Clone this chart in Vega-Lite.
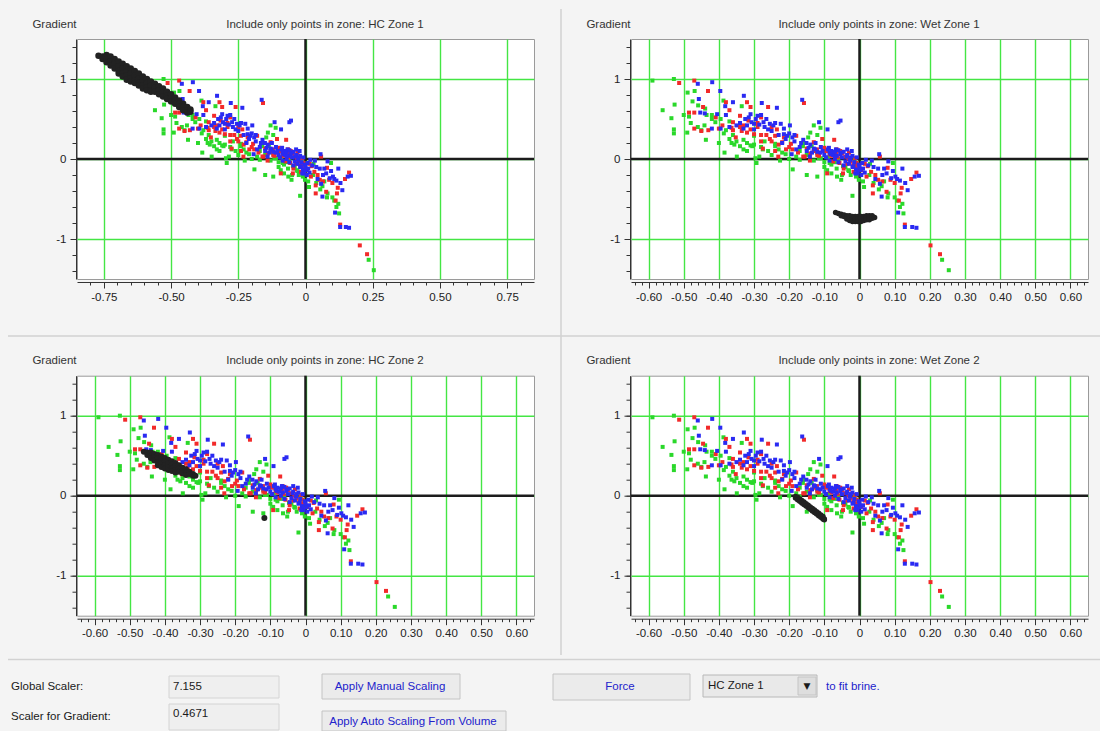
{
"$schema":"https://vega.github.io/schema/vega-lite/v6.json",
"background":"#f4f4f4",
"padding":{"left":7,"top":8,"right":0,"bottom":0},
"bounds":"flush",
"columns":2,
"spacing":{"row":96.7,"column":97},
"config":{
 "font":"Liberation Sans",
 "view":{"fill":"white","stroke":"#9a9a9a","strokeWidth":1},
 "axis":{"labelFont":"Liberation Sans","labelFontSize":11.5,"labelColor":"#222222","titleFont":"Liberation Sans","titleFontSize":11.5,"titleFontWeight":"normal","titleColor":"#333333","domainColor":"#333333","tickColor":"#333333","gridColor":"#44e644","gridOpacity":1,"gridWidth":1.4}
},
"datasets":{
 "pts":[
{"x":-0.589,"y":0.98,"c":"g"},{"x":-0.528,"y":1.0,"c":"g"},{"x":-0.56,"y":0.61,"c":"g"},{"x":-0.526,"y":0.68,"c":"g"},{"x":-0.535,"y":0.51,"c":"g"},{"x":-0.528,"y":0.37,"c":"g"},{"x":-0.528,"y":0.32,"c":"g"},{"x":-0.49,"y":0.33,"c":"g"},{"x":-0.489,"y":0.83,"c":"g"},{"x":-0.469,"y":0.85,"c":"g"},{"x":-0.475,"y":0.72,"c":"g"},{"x":-0.459,"y":0.67,"c":"g"},{"x":-0.485,"y":0.53,"c":"g"},{"x":-0.439,"y":0.63,"c":"g"},{"x":-0.435,"y":0.55,"c":"g"},{"x":-0.441,"y":0.42,"c":"g"},{"x":-0.437,"y":0.24,"c":"g"},{"x":-0.42,"y":0.5,"c":"g"},{"x":-0.41,"y":0.46,"c":"g"},{"x":-0.395,"y":0.5,"c":"g"},{"x":-0.387,"y":0.73,"c":"g"},{"x":-0.386,"y":0.32,"c":"g"},{"x":-0.384,"y":0.08,"c":"g"},{"x":-0.37,"y":0.47,"c":"g"},{"x":-0.37,"y":0.25,"c":"g"},{"x":-0.364,"y":0.2,"c":"g"},{"x":-0.356,"y":0.18,"c":"g"},{"x":-0.349,"y":0.03,"c":"g"},{"x":-0.34,"y":0.16,"c":"g"},{"x":-0.335,"y":0.66,"c":"g"},{"x":-0.33,"y":0.12,"c":"g"},{"x":-0.32,"y":0.2,"c":"g"},{"x":-0.305,"y":0.16,"c":"g"},{"x":-0.3,"y":0.29,"c":"g"},{"x":-0.3,"y":0.18,"c":"g"},{"x":-0.296,"y":0.01,"c":"g"},{"x":-0.293,"y":-0.05,"c":"g"},{"x":-0.285,"y":0.03,"c":"g"},{"x":-0.275,"y":0.12,"c":"g"},{"x":-0.26,"y":0.1,"c":"g"},{"x":-0.24,"y":0.16,"c":"g"},{"x":-0.226,"y":-0.02,"c":"g"},{"x":-0.22,"y":0.08,"c":"g"},{"x":-0.19,"y":-0.13,"c":"g"},{"x":-0.18,"y":0.03,"c":"g"},{"x":-0.161,"y":0.16,"c":"g"},{"x":-0.146,"y":0.27,"c":"g"},{"x":-0.14,"y":0.33,"c":"g"},{"x":-0.13,"y":0.42,"c":"g"},{"x":-0.111,"y":0.39,"c":"g"},{"x":-0.136,"y":0.16,"c":"g"},{"x":-0.116,"y":0.01,"c":"g"},{"x":-0.1,"y":-0.04,"c":"g"},{"x":-0.092,"y":-0.14,"c":"g"},{"x":-0.08,"y":-0.07,"c":"g"},{"x":-0.064,"y":-0.22,"c":"g"},{"x":-0.052,"y":-0.26,"c":"g"},{"x":-0.047,"y":-0.09,"c":"g"},{"x":-0.032,"y":-0.14,"c":"g"},{"x":-0.02,"y":-0.46,"c":"g"},{"x":-0.014,"y":-0.01,"c":"g"},{"x":-0.007,"y":-0.05,"c":"g"},{"x":-0.002,"y":-0.26,"c":"g"},{"x":0.013,"y":-0.35,"c":"g"},{"x":0.028,"y":-0.2,"c":"g"},{"x":0.063,"y":-0.34,"c":"g"},{"x":0.08,"y":-0.48,"c":"g"},{"x":0.082,"y":-0.43,"c":"g"},{"x":0.095,"y":-0.05,"c":"g"},{"x":0.107,"y":-0.52,"c":"g"},{"x":0.122,"y":-0.56,"c":"g"},{"x":0.125,"y":-0.68,"c":"g"},{"x":0.235,"y":-1.26,"c":"g"},{"x":0.254,"y":-1.39,"c":"g"},
{"x":-0.09,"y":0.02,"c":"g"},{"x":-0.07,"y":-0.04,"c":"g"},{"x":-0.06,"y":0.0,"c":"g"},{"x":-0.04,"y":-0.1,"c":"g"},{"x":-0.03,"y":-0.15,"c":"g"},{"x":-0.11,"y":0.01,"c":"g"},{"x":-0.13,"y":-0.02,"c":"g"},{"x":-0.17,"y":-0.01,"c":"g"},{"x":-0.21,"y":0.06,"c":"g"},{"x":-0.24,"y":0.19,"c":"g"},{"x":-0.27,"y":0.22,"c":"g"},{"x":-0.31,"y":0.17,"c":"g"},{"x":-0.33,"y":0.24,"c":"g"},{"x":-0.36,"y":0.3,"c":"g"},{"x":-0.4,"y":0.2,"c":"g"},{"x":-0.15,"y":-0.2,"c":"g"},{"x":-0.12,"y":-0.22,"c":"g"},{"x":-0.08,"y":-0.18,"c":"g"},{"x":0.03,"y":-0.06,"c":"g"},{"x":-0.45,"y":0.36,"c":"g"},
{"x":-0.5,"y":0.55,"c":"g"},{"x":-0.46,"y":0.4,"c":"g"},{"x":-0.38,"y":0.36,"c":"g"},{"x":-0.35,"y":0.22,"c":"g"},{"x":-0.32,"y":0.1,"c":"g"},{"x":-0.28,"y":0.15,"c":"g"},{"x":-0.25,"y":0.05,"c":"g"},{"x":-0.23,"y":0.12,"c":"g"},{"x":-0.2,"y":0.0,"c":"g"},{"x":-0.17,"y":0.1,"c":"g"},{"x":-0.15,"y":0.05,"c":"g"},{"x":-0.12,"y":0.07,"c":"g"},{"x":-0.1,"y":-0.1,"c":"g"},{"x":-0.085,"y":-0.05,"c":"g"},{"x":-0.065,"y":-0.12,"c":"g"},{"x":-0.05,"y":-0.2,"c":"g"},{"x":-0.025,"y":-0.2,"c":"g"},{"x":-0.01,"y":-0.22,"c":"g"},{"x":0.01,"y":-0.28,"c":"g"},{"x":0.04,"y":-0.3,"c":"g"},{"x":0.055,"y":-0.38,"c":"g"},{"x":0.07,"y":-0.28,"c":"g"},{"x":0.1,"y":-0.48,"c":"g"},{"x":0.115,"y":-0.6,"c":"g"},{"x":-0.16,"y":0.2,"c":"g"},{"x":-0.12,"y":0.3,"c":"g"},{"x":-0.42,"y":0.55,"c":"g"},{"x":-0.48,"y":0.45,"c":"g"},
{"x":-0.513,"y":0.95,"c":"r"},{"x":-0.47,"y":0.98,"c":"r"},{"x":-0.431,"y":0.85,"c":"r"},{"x":-0.485,"y":0.58,"c":"r"},{"x":-0.47,"y":0.58,"c":"r"},{"x":-0.445,"y":0.65,"c":"r"},{"x":-0.45,"y":0.35,"c":"r"},{"x":-0.409,"y":0.52,"c":"r"},{"x":-0.38,"y":0.71,"c":"r"},{"x":-0.37,"y":0.61,"c":"r"},{"x":-0.364,"y":0.39,"c":"r"},{"x":-0.36,"y":0.46,"c":"r"},{"x":-0.352,"y":0.27,"c":"r"},{"x":-0.34,"y":0.54,"c":"r"},{"x":-0.335,"y":0.35,"c":"r"},{"x":-0.32,"y":0.71,"c":"r"},{"x":-0.31,"y":0.65,"c":"r"},{"x":-0.316,"y":0.48,"c":"r"},{"x":-0.31,"y":0.37,"c":"r"},{"x":-0.3,"y":0.31,"c":"r"},{"x":-0.28,"y":0.52,"c":"r"},{"x":-0.275,"y":0.13,"c":"r"},{"x":-0.26,"y":0.65,"c":"r"},{"x":-0.255,"y":0.25,"c":"r"},{"x":-0.24,"y":0.29,"c":"r"},{"x":-0.235,"y":0.37,"c":"r"},{"x":-0.231,"y":0.03,"c":"r"},{"x":-0.22,"y":0.21,"c":"r"},{"x":-0.209,"y":0.12,"c":"r"},{"x":-0.191,"y":0.12,"c":"r"},{"x":-0.18,"y":0.29,"c":"r"},{"x":-0.158,"y":0.7,"c":"r"},{"x":-0.156,"y":0.03,"c":"r"},{"x":-0.141,"y":-0.02,"c":"r"},{"x":-0.121,"y":0.12,"c":"r"},{"x":-0.106,"y":0.25,"c":"r"},{"x":-0.1,"y":0.11,"c":"r"},{"x":-0.092,"y":-0.18,"c":"r"},{"x":-0.072,"y":0.24,"c":"r"},{"x":-0.067,"y":0.08,"c":"r"},{"x":-0.057,"y":-0.05,"c":"r"},{"x":-0.047,"y":-0.18,"c":"r"},{"x":-0.032,"y":0.0,"c":"r"},{"x":-0.017,"y":-0.16,"c":"r"},{"x":-0.012,"y":0.01,"c":"r"},{"x":0.023,"y":-0.09,"c":"r"},{"x":0.033,"y":-0.16,"c":"r"},{"x":0.038,"y":-0.33,"c":"r"},{"x":0.038,"y":-0.43,"c":"r"},{"x":0.053,"y":-0.26,"c":"r"},{"x":0.058,"y":0.03,"c":"r"},{"x":0.077,"y":-0.41,"c":"r"},{"x":0.088,"y":-0.26,"c":"r"},{"x":0.112,"y":-0.52,"c":"r"},{"x":0.117,"y":-0.43,"c":"r"},{"x":0.129,"y":-0.82,"c":"r"},{"x":0.147,"y":-0.25,"c":"r"},{"x":0.162,"y":-0.17,"c":"r"},{"x":0.202,"y":-1.08,"c":"r"},{"x":0.229,"y":-1.19,"c":"r"},{"x":0.08,"y":-0.11,"c":"r"},
{"x":-0.095,"y":0.1,"c":"r"},{"x":-0.08,"y":0.04,"c":"r"},{"x":-0.065,"y":0.12,"c":"r"},{"x":-0.05,"y":0.07,"c":"r"},{"x":-0.04,"y":0.03,"c":"r"},{"x":-0.03,"y":0.08,"c":"r"},{"x":-0.025,"y":-0.03,"c":"r"},{"x":-0.018,"y":-0.08,"c":"r"},{"x":-0.008,"y":-0.05,"c":"r"},{"x":-0.1,"y":0.14,"c":"r"},{"x":-0.12,"y":0.05,"c":"r"},{"x":-0.14,"y":0.07,"c":"r"},{"x":-0.16,"y":0.03,"c":"r"},{"x":-0.2,"y":0.15,"c":"r"},{"x":-0.25,"y":0.22,"c":"r"},{"x":-0.28,"y":0.3,"c":"r"},{"x":-0.43,"y":0.36,"c":"r"},{"x":-0.39,"y":0.42,"c":"r"},{"x":-0.33,"y":0.42,"c":"r"},{"x":-0.29,"y":0.4,"c":"r"},{"x":-0.24,"y":0.1,"c":"r"},{"x":-0.055,"y":0.1,"c":"r"},
{"x":-0.34,"y":0.4,"c":"r"},{"x":-0.32,"y":0.33,"c":"r"},{"x":-0.29,"y":0.45,"c":"r"},{"x":-0.265,"y":0.3,"c":"r"},{"x":-0.25,"y":0.4,"c":"r"},{"x":-0.23,"y":0.18,"c":"r"},{"x":-0.215,"y":0.27,"c":"r"},{"x":-0.195,"y":0.19,"c":"r"},{"x":-0.175,"y":0.08,"c":"r"},{"x":-0.15,"y":0.13,"c":"r"},{"x":-0.13,"y":0.1,"c":"r"},{"x":-0.115,"y":0.04,"c":"r"},{"x":-0.085,"y":0.06,"c":"r"},{"x":-0.075,"y":-0.03,"c":"r"},{"x":-0.062,"y":0.02,"c":"r"},{"x":-0.045,"y":-0.12,"c":"r"},{"x":-0.035,"y":-0.06,"c":"r"},{"x":-0.01,"y":-0.1,"c":"r"},{"x":0.005,"y":-0.14,"c":"r"},{"x":0.015,"y":-0.06,"c":"r"},{"x":0.045,"y":-0.2,"c":"r"},{"x":0.065,"y":-0.28,"c":"r"},{"x":0.1,"y":-0.3,"c":"r"},{"x":-0.4,"y":0.38,"c":"r"},{"x":-0.47,"y":0.38,"c":"r"},{"x":-0.36,"y":0.36,"c":"r"},{"x":-0.28,"y":0.22,"c":"r"},{"x":-0.13,"y":0.21,"c":"r"},{"x":0.02,"y":-0.22,"c":"r"},{"x":0.12,"y":-0.36,"c":"r"},
{"x":-0.46,"y":0.94,"c":"b"},{"x":-0.419,"y":0.96,"c":"b"},{"x":-0.396,"y":0.85,"c":"b"},{"x":-0.457,"y":0.75,"c":"b"},{"x":-0.453,"y":0.58,"c":"b"},{"x":-0.405,"y":0.56,"c":"b"},{"x":-0.395,"y":0.38,"c":"b"},{"x":-0.382,"y":0.66,"c":"b"},{"x":-0.36,"y":0.71,"c":"b"},{"x":-0.329,"y":0.79,"c":"b"},{"x":-0.325,"y":0.5,"c":"b"},{"x":-0.32,"y":0.42,"c":"b"},{"x":-0.31,"y":0.56,"c":"b"},{"x":-0.307,"y":0.46,"c":"b"},{"x":-0.3,"y":0.37,"c":"b"},{"x":-0.29,"y":0.54,"c":"b"},{"x":-0.28,"y":0.55,"c":"b"},{"x":-0.278,"y":0.7,"c":"b"},{"x":-0.273,"y":0.46,"c":"b"},{"x":-0.26,"y":0.37,"c":"b"},{"x":-0.255,"y":0.44,"c":"b"},{"x":-0.245,"y":0.42,"c":"b"},{"x":-0.235,"y":0.64,"c":"b"},{"x":-0.224,"y":0.44,"c":"b"},{"x":-0.22,"y":0.2,"c":"b"},{"x":-0.215,"y":0.31,"c":"b"},{"x":-0.206,"y":0.29,"c":"b"},{"x":-0.198,"y":0.42,"c":"b"},{"x":-0.191,"y":0.27,"c":"b"},{"x":-0.193,"y":0.06,"c":"b"},{"x":-0.18,"y":0.12,"c":"b"},{"x":-0.166,"y":0.2,"c":"b"},{"x":-0.163,"y":0.74,"c":"b"},{"x":-0.151,"y":0.2,"c":"b"},{"x":-0.141,"y":0.03,"c":"b"},{"x":-0.126,"y":0.12,"c":"b"},{"x":-0.115,"y":0.46,"c":"b"},{"x":-0.111,"y":0.08,"c":"b"},{"x":-0.091,"y":0.37,"c":"b"},{"x":-0.087,"y":0.14,"c":"b"},{"x":-0.082,"y":0.06,"c":"b"},{"x":-0.067,"y":0.12,"c":"b"},{"x":-0.06,"y":0.46,"c":"b"},{"x":-0.054,"y":0.48,"c":"b"},{"x":-0.052,"y":0.08,"c":"b"},{"x":-0.037,"y":0.03,"c":"b"},{"x":-0.027,"y":-0.01,"c":"b"},{"x":-0.022,"y":0.1,"c":"b"},{"x":-0.017,"y":-0.09,"c":"b"},{"x":-0.007,"y":-0.18,"c":"b"},{"x":-0.002,"y":-0.07,"c":"b"},{"x":0.003,"y":-0.14,"c":"b"},{"x":0.018,"y":-0.01,"c":"b"},{"x":0.035,"y":-0.02,"c":"b"},{"x":0.053,"y":-0.12,"c":"b"},{"x":0.056,"y":0.06,"c":"b"},{"x":0.058,"y":-0.31,"c":"b"},{"x":0.063,"y":-0.47,"c":"b"},{"x":0.077,"y":-0.18,"c":"b"},{"x":0.082,"y":-0.03,"c":"b"},{"x":0.102,"y":-0.22,"c":"b"},{"x":0.107,"y":-0.25,"c":"b"},{"x":0.11,"y":-0.67,"c":"b"},{"x":0.122,"y":-0.12,"c":"b"},{"x":0.129,"y":-0.85,"c":"b"},{"x":0.137,"y":-0.39,"c":"b"},{"x":0.15,"y":-0.85,"c":"b"},{"x":0.162,"y":-0.86,"c":"b"},{"x":0.169,"y":-0.21,"c":"b"},{"x":0.157,"y":-0.22,"c":"b"},
{"x":-0.09,"y":0.12,"c":"b"},{"x":-0.085,"y":0.08,"c":"b"},{"x":-0.08,"y":0.1,"c":"b"},{"x":-0.075,"y":0.05,"c":"b"},{"x":-0.07,"y":0.09,"c":"b"},{"x":-0.065,"y":0.04,"c":"b"},{"x":-0.06,"y":0.11,"c":"b"},{"x":-0.055,"y":0.06,"c":"b"},{"x":-0.05,"y":0.02,"c":"b"},{"x":-0.045,"y":0.09,"c":"b"},{"x":-0.04,"y":-0.03,"c":"b"},{"x":-0.035,"y":0.05,"c":"b"},{"x":-0.03,"y":-0.06,"c":"b"},{"x":-0.025,"y":0.02,"c":"b"},{"x":-0.02,"y":-0.1,"c":"b"},{"x":-0.015,"y":-0.04,"c":"b"},{"x":-0.01,"y":-0.13,"c":"b"},{"x":-0.005,"y":-0.16,"c":"b"},{"x":0.0,"y":-0.1,"c":"b"},{"x":0.005,"y":-0.2,"c":"b"},{"x":-0.012,"y":-0.18,"c":"b"},{"x":-0.1,"y":0.05,"c":"b"},{"x":-0.11,"y":0.15,"c":"b"},{"x":-0.12,"y":0.09,"c":"b"},{"x":-0.13,"y":0.13,"c":"b"},{"x":-0.14,"y":0.18,"c":"b"},{"x":-0.15,"y":0.1,"c":"b"},
{"x":-0.34,"y":0.45,"c":"b"},{"x":-0.33,"y":0.38,"c":"b"},{"x":-0.315,"y":0.52,"c":"b"},{"x":-0.3,"y":0.44,"c":"b"},{"x":-0.295,"y":0.5,"c":"b"},{"x":-0.285,"y":0.43,"c":"b"},{"x":-0.27,"y":0.4,"c":"b"},{"x":-0.265,"y":0.5,"c":"b"},{"x":-0.25,"y":0.35,"c":"b"},{"x":-0.24,"y":0.45,"c":"b"},{"x":-0.23,"y":0.3,"c":"b"},{"x":-0.21,"y":0.25,"c":"b"},{"x":-0.2,"y":0.32,"c":"b"},{"x":-0.185,"y":0.22,"c":"b"},{"x":-0.17,"y":0.15,"c":"b"},{"x":-0.16,"y":0.24,"c":"b"},{"x":-0.145,"y":0.14,"c":"b"},{"x":-0.135,"y":0.08,"c":"b"},{"x":-0.125,"y":0.2,"c":"b"},{"x":-0.105,"y":0.1,"c":"b"},{"x":-0.095,"y":0.02,"c":"b"},{"x":-0.085,"y":-0.02,"c":"b"},{"x":-0.07,"y":0.0,"c":"b"},{"x":-0.06,"y":-0.04,"c":"b"},{"x":-0.045,"y":-0.08,"c":"b"},{"x":-0.035,"y":0.12,"c":"b"},{"x":-0.02,"y":0.04,"c":"b"},{"x":-0.008,"y":0.02,"c":"b"},{"x":0.008,"y":-0.05,"c":"b"},{"x":0.01,"y":-0.12,"c":"b"},{"x":0.015,"y":-0.17,"c":"b"},{"x":0.025,"y":-0.08,"c":"b"},{"x":0.04,"y":-0.1,"c":"b"},{"x":0.045,"y":-0.25,"c":"b"},{"x":0.065,"y":-0.2,"c":"b"},{"x":0.07,"y":-0.12,"c":"b"},{"x":0.09,"y":-0.24,"c":"b"},{"x":0.095,"y":-0.15,"c":"b"},{"x":0.115,"y":-0.27,"c":"b"},{"x":0.13,"y":-0.3,"c":"b"},{"x":-0.37,"y":0.4,"c":"b"},{"x":-0.35,"y":0.42,"c":"b"},{"x":-0.42,"y":0.38,"c":"b"},{"x":-0.44,"y":0.57,"c":"b"},{"x":-0.38,"y":0.55,"c":"b"},{"x":-0.215,"y":0.38,"c":"b"},{"x":-0.185,"y":0.3,"c":"b"}
 ],
 "blk":[
{"z":"HC1","x":-0.77,"y":1.29},{"z":"HC1","x":-0.755,"y":1.28},{"z":"HC1","x":-0.755,"y":1.25},{"z":"HC1","x":-0.74,"y":1.3},{"z":"HC1","x":-0.74,"y":1.25},{"z":"HC1","x":-0.74,"y":1.21},{"z":"HC1","x":-0.725,"y":1.28},{"z":"HC1","x":-0.725,"y":1.22},{"z":"HC1","x":-0.725,"y":1.17},{"z":"HC1","x":-0.71,"y":1.25},{"z":"HC1","x":-0.71,"y":1.19},{"z":"HC1","x":-0.71,"y":1.13},{"z":"HC1","x":-0.695,"y":1.22},{"z":"HC1","x":-0.695,"y":1.16},{"z":"HC1","x":-0.695,"y":1.1},{"z":"HC1","x":-0.695,"y":1.07},{"z":"HC1","x":-0.68,"y":1.19},{"z":"HC1","x":-0.68,"y":1.13},{"z":"HC1","x":-0.68,"y":1.07},{"z":"HC1","x":-0.68,"y":1.03},{"z":"HC1","x":-0.665,"y":1.16},{"z":"HC1","x":-0.665,"y":1.1},{"z":"HC1","x":-0.665,"y":1.04},{"z":"HC1","x":-0.665,"y":0.99},{"z":"HC1","x":-0.65,"y":1.13},{"z":"HC1","x":-0.65,"y":1.07},{"z":"HC1","x":-0.65,"y":1.01},{"z":"HC1","x":-0.65,"y":0.97},{"z":"HC1","x":-0.635,"y":1.1},{"z":"HC1","x":-0.635,"y":1.04},{"z":"HC1","x":-0.635,"y":0.98},{"z":"HC1","x":-0.635,"y":0.95},{"z":"HC1","x":-0.62,"y":1.07},{"z":"HC1","x":-0.62,"y":1.01},{"z":"HC1","x":-0.62,"y":0.95},{"z":"HC1","x":-0.62,"y":0.92},{"z":"HC1","x":-0.605,"y":1.03},{"z":"HC1","x":-0.605,"y":0.98},{"z":"HC1","x":-0.605,"y":0.92},{"z":"HC1","x":-0.605,"y":0.88},{"z":"HC1","x":-0.59,"y":1.0},{"z":"HC1","x":-0.59,"y":0.95},{"z":"HC1","x":-0.59,"y":0.89},{"z":"HC1","x":-0.59,"y":0.86},{"z":"HC1","x":-0.575,"y":0.97},{"z":"HC1","x":-0.575,"y":0.92},{"z":"HC1","x":-0.575,"y":0.86},{"z":"HC1","x":-0.575,"y":0.84},{"z":"HC1","x":-0.56,"y":0.94},{"z":"HC1","x":-0.56,"y":0.89},{"z":"HC1","x":-0.56,"y":0.84},{"z":"HC1","x":-0.545,"y":0.91},{"z":"HC1","x":-0.545,"y":0.86},{"z":"HC1","x":-0.545,"y":0.81},{"z":"HC1","x":-0.53,"y":0.88},{"z":"HC1","x":-0.53,"y":0.83},{"z":"HC1","x":-0.53,"y":0.78},{"z":"HC1","x":-0.515,"y":0.84},{"z":"HC1","x":-0.515,"y":0.79},{"z":"HC1","x":-0.515,"y":0.75},{"z":"HC1","x":-0.5,"y":0.81},{"z":"HC1","x":-0.5,"y":0.76},{"z":"HC1","x":-0.5,"y":0.72},{"z":"HC1","x":-0.485,"y":0.77},{"z":"HC1","x":-0.485,"y":0.73},{"z":"HC1","x":-0.485,"y":0.69},{"z":"HC1","x":-0.47,"y":0.73},{"z":"HC1","x":-0.47,"y":0.69},{"z":"HC1","x":-0.47,"y":0.65},{"z":"HC1","x":-0.455,"y":0.69},{"z":"HC1","x":-0.455,"y":0.65},{"z":"HC1","x":-0.455,"y":0.61},{"z":"HC1","x":-0.44,"y":0.65},{"z":"HC1","x":-0.44,"y":0.61},{"z":"HC1","x":-0.44,"y":0.58},{"z":"HC1","x":-0.428,"y":0.62},{"z":"HC1","x":-0.428,"y":0.59},
{"z":"WZ1","x":-0.068,"y":-0.67},{"z":"WZ1","x":-0.06,"y":-0.68},{"z":"WZ1","x":-0.052,"y":-0.69},{"z":"WZ1","x":-0.052,"y":-0.71},{"z":"WZ1","x":-0.044,"y":-0.7},{"z":"WZ1","x":-0.044,"y":-0.72},{"z":"WZ1","x":-0.036,"y":-0.71},{"z":"WZ1","x":-0.036,"y":-0.73},{"z":"WZ1","x":-0.036,"y":-0.75},{"z":"WZ1","x":-0.028,"y":-0.71},{"z":"WZ1","x":-0.028,"y":-0.74},{"z":"WZ1","x":-0.028,"y":-0.77},{"z":"WZ1","x":-0.02,"y":-0.72},{"z":"WZ1","x":-0.02,"y":-0.75},{"z":"WZ1","x":-0.02,"y":-0.78},{"z":"WZ1","x":-0.012,"y":-0.72},{"z":"WZ1","x":-0.012,"y":-0.75},{"z":"WZ1","x":-0.012,"y":-0.78},{"z":"WZ1","x":-0.004,"y":-0.72},{"z":"WZ1","x":-0.004,"y":-0.75},{"z":"WZ1","x":-0.004,"y":-0.78},{"z":"WZ1","x":0.004,"y":-0.72},{"z":"WZ1","x":0.004,"y":-0.75},{"z":"WZ1","x":0.004,"y":-0.78},{"z":"WZ1","x":0.012,"y":-0.72},{"z":"WZ1","x":0.012,"y":-0.75},{"z":"WZ1","x":0.012,"y":-0.77},{"z":"WZ1","x":0.02,"y":-0.71},{"z":"WZ1","x":0.02,"y":-0.74},{"z":"WZ1","x":0.02,"y":-0.76},{"z":"WZ1","x":0.028,"y":-0.71},{"z":"WZ1","x":0.028,"y":-0.74},{"z":"WZ1","x":0.028,"y":-0.76},{"z":"WZ1","x":0.036,"y":-0.71},{"z":"WZ1","x":0.036,"y":-0.74},{"z":"WZ1","x":0.043,"y":-0.73},
{"z":"HC2","x":-0.46,"y":0.55},{"z":"HC2","x":-0.45,"y":0.54},{"z":"HC2","x":-0.45,"y":0.51},{"z":"HC2","x":-0.44,"y":0.54},{"z":"HC2","x":-0.44,"y":0.5},{"z":"HC2","x":-0.44,"y":0.47},{"z":"HC2","x":-0.43,"y":0.52},{"z":"HC2","x":-0.43,"y":0.48},{"z":"HC2","x":-0.43,"y":0.44},{"z":"HC2","x":-0.42,"y":0.51},{"z":"HC2","x":-0.42,"y":0.47},{"z":"HC2","x":-0.42,"y":0.42},{"z":"HC2","x":-0.42,"y":0.38},{"z":"HC2","x":-0.41,"y":0.49},{"z":"HC2","x":-0.41,"y":0.45},{"z":"HC2","x":-0.41,"y":0.4},{"z":"HC2","x":-0.41,"y":0.36},{"z":"HC2","x":-0.4,"y":0.47},{"z":"HC2","x":-0.4,"y":0.43},{"z":"HC2","x":-0.4,"y":0.38},{"z":"HC2","x":-0.4,"y":0.34},{"z":"HC2","x":-0.39,"y":0.45},{"z":"HC2","x":-0.39,"y":0.41},{"z":"HC2","x":-0.39,"y":0.36},{"z":"HC2","x":-0.39,"y":0.32},{"z":"HC2","x":-0.38,"y":0.43},{"z":"HC2","x":-0.38,"y":0.39},{"z":"HC2","x":-0.38,"y":0.34},{"z":"HC2","x":-0.38,"y":0.31},{"z":"HC2","x":-0.37,"y":0.41},{"z":"HC2","x":-0.37,"y":0.37},{"z":"HC2","x":-0.37,"y":0.32},{"z":"HC2","x":-0.37,"y":0.29},{"z":"HC2","x":-0.36,"y":0.38},{"z":"HC2","x":-0.36,"y":0.34},{"z":"HC2","x":-0.36,"y":0.3},{"z":"HC2","x":-0.35,"y":0.35},{"z":"HC2","x":-0.35,"y":0.31},{"z":"HC2","x":-0.35,"y":0.28},{"z":"HC2","x":-0.34,"y":0.33},{"z":"HC2","x":-0.34,"y":0.29},{"z":"HC2","x":-0.34,"y":0.26},{"z":"HC2","x":-0.33,"y":0.3},{"z":"HC2","x":-0.33,"y":0.27},{"z":"HC2","x":-0.32,"y":0.27},{"z":"HC2","x":-0.32,"y":0.25},{"z":"HC2","x":-0.313,"y":0.25},{"z":"HC2","x":-0.117,"y":-0.28},
{"z":"WZ2","x":-0.182,"y":-0.01},{"z":"WZ2","x":-0.182,"y":-0.03},{"z":"WZ2","x":-0.176,"y":-0.02},{"z":"WZ2","x":-0.176,"y":-0.05},{"z":"WZ2","x":-0.17,"y":-0.04},{"z":"WZ2","x":-0.17,"y":-0.07},{"z":"WZ2","x":-0.164,"y":-0.06},{"z":"WZ2","x":-0.164,"y":-0.09},{"z":"WZ2","x":-0.158,"y":-0.08},{"z":"WZ2","x":-0.158,"y":-0.11},{"z":"WZ2","x":-0.152,"y":-0.1},{"z":"WZ2","x":-0.152,"y":-0.13},{"z":"WZ2","x":-0.146,"y":-0.12},{"z":"WZ2","x":-0.146,"y":-0.15},{"z":"WZ2","x":-0.14,"y":-0.14},{"z":"WZ2","x":-0.14,"y":-0.17},{"z":"WZ2","x":-0.134,"y":-0.16},{"z":"WZ2","x":-0.134,"y":-0.19},{"z":"WZ2","x":-0.128,"y":-0.18},{"z":"WZ2","x":-0.128,"y":-0.21},{"z":"WZ2","x":-0.122,"y":-0.2},{"z":"WZ2","x":-0.122,"y":-0.23},{"z":"WZ2","x":-0.116,"y":-0.22},{"z":"WZ2","x":-0.116,"y":-0.25},{"z":"WZ2","x":-0.11,"y":-0.24},{"z":"WZ2","x":-0.11,"y":-0.27},{"z":"WZ2","x":-0.104,"y":-0.26},{"z":"WZ2","x":-0.104,"y":-0.29},{"z":"WZ2","x":-0.1,"y":-0.29},{"z":"WZ2","x":-0.1,"y":-0.3}
 ],
 "boxes":[
{"x":169,"x2":279,"y":676,"y2":698,"k":"f"},{"x":169,"x2":279,"y":704,"y2":730,"k":"f"},{"x":322,"x2":460,"y":674,"y2":699,"k":"btn"},{"x":322,"x2":506,"y":711,"y2":731,"k":"btn"},{"x":553,"x2":690,"y":674,"y2":700,"k":"btn"},{"x":703,"x2":817,"y":675,"y2":697,"k":"dd"},{"x":798,"x2":816,"y":677,"y2":695,"k":"arr"}
 ],
 "lines":[
{"x":8,"x2":1100,"y":659.5,"y2":659.5},{"x":8,"x2":1100,"y":336,"y2":336},{"x":561,"x2":561,"y":9,"y2":655}
 ],
 "texts":[
{"x":11,"y":687,"t":"Global Scaler:","c":"k","a":"l"},{"x":173,"y":687,"t":"7.155","c":"k","a":"l"},{"x":11,"y":717,"t":"Scaler for Gradient:","c":"k","a":"l"},{"x":173,"y":714,"t":"0.4671","c":"k","a":"l"},{"x":708,"y":686,"t":"HC Zone 1","c":"k","a":"l"},{"x":826,"y":687,"t":"to fit brine.","c":"b","a":"l"},
{"x":390,"y":687,"t":"Apply Manual Scaling","c":"b","a":"c"},{"x":413,"y":722,"t":"Apply Auto Scaling From Volume","c":"b","a":"c"},{"x":620,"y":687,"t":"Force","c":"b","a":"c"},{"x":807,"y":686,"t":"▼","c":"k","a":"c"}
 ]
},
"concat":[
   {"width":457,"height":240,
    "layer":[
     {"data":{"values":[{}]},"mark":{"type":"rule","color":"#1c1c1c","strokeWidth":2.5},"encoding":{"y":{"datum":0,"type":"quantitative","scale":{"domain":[-1.5,1.5],"nice":false,"zero":false},"axis":null}}},
     {"data":{"values":[{}]},"mark":{"type":"rule","color":"#1c1c1c","strokeWidth":2.5},"encoding":{"x":{"datum":0,"type":"quantitative","scale":{"domain":[-0.85,0.85],"nice":false,"zero":false},"axis":null}}},
     {"data":{"name":"pts"},"mark":{"type":"square","size":16,"opacity":1},"encoding":{
       "x":{"field":"x","type":"quantitative","scale":{"domain":[-0.85,0.85],"nice":false,"zero":false},"axis":{"orient":"bottom","values":[-0.75,-0.5,-0.25,0,0.25,0.5,0.75],"grid":true,"tickSize":6,"offset":3,"labelPadding":3,"labelFlush":false,"labelOverlap":false,"labelExpr":"datum.value == 0 ? '0' : (datum.value < 0 ? '-' : '') + format(abs(datum.value), '.2f')","title":"Include only points in zone: HC Zone 1","titleX":247.5,"titleY":-258,"titleAngle":0,"titleAlign":"center","titleBaseline":"middle"}},
       "y":{"field":"y","type":"quantitative","scale":{"domain":[-1.5,1.5],"nice":false,"zero":false},"axis":{"orient":"left","values":[-1,0,1],"grid":true,"tickSize":6,"offset":1,"labelPadding":4,"labelExpr":"(datum.value < 0 ? '-' : '') + format(abs(datum.value), 'd')","title":"Gradient","titleX":0,"titleY":-14.8,"titleAngle":0,"titleAlign":"right","titleBaseline":"middle"}},
       "color":{"field":"c","type":"nominal","scale":{"domain":["g","r","b"],"range":["#2ad82a","#f22a2a","#2a2af2"]},"legend":null}}},
     {"data":{"name":"blk"},"transform":[{"filter":"datum.z == 'HC1'"}],"mark":{"type":"circle","size":42,"color":"#222222","opacity":1},"encoding":{"x":{"field":"x","type":"quantitative","axis":null},"y":{"field":"y","type":"quantitative","axis":null}}},
     {"data":{"values":[{}]},"mark":{"type":"point","opacity":0},"encoding":{
       "x":{"datum":0,"type":"quantitative","axis":{"orient":"bottom","values":[-0.8,-0.75,-0.7,-0.65,-0.6,-0.55,-0.5,-0.45,-0.4,-0.35,-0.3,-0.25,-0.2,-0.15,-0.1,-0.05,0,0.05,0.1,0.15,0.2,0.25,0.3,0.35,0.4,0.45,0.5,0.55,0.6,0.65,0.7,0.75,0.8],"grid":false,"labels":false,"domain":false,"tickSize":3,"offset":3,"title":null}},
       "y":{"datum":0,"type":"quantitative","axis":{"orient":"left","values":[-1.4,-1.2,-1,-0.8,-0.6,-0.4,-0.2,0,0.2,0.4,0.6,0.8,1,1.2,1.4],"grid":false,"labels":false,"domain":false,"tickSize":4,"offset":1,"title":null}}}}
    ],
    "resolve":{"axis":{"x":"independent","y":"independent"}}},
   {"width":457,"height":240,
    "layer":[
     {"data":{"values":[{}]},"mark":{"type":"rule","color":"#1c1c1c","strokeWidth":2.5},"encoding":{"y":{"datum":0,"type":"quantitative","scale":{"domain":[-1.5,1.5],"nice":false,"zero":false},"axis":null}}},
     {"data":{"values":[{}]},"mark":{"type":"rule","color":"#1c1c1c","strokeWidth":2.5},"encoding":{"x":{"datum":0,"type":"quantitative","scale":{"domain":[-0.65,0.65],"nice":false,"zero":false},"axis":null}}},
     {"data":{"name":"pts"},"mark":{"type":"square","size":16,"opacity":1},"encoding":{
       "x":{"field":"x","type":"quantitative","scale":{"domain":[-0.65,0.65],"nice":false,"zero":false},"axis":{"orient":"bottom","values":[-0.6,-0.5,-0.4,-0.3,-0.2,-0.1,0,0.1,0.2,0.3,0.4,0.5,0.6],"grid":true,"tickSize":6,"offset":3,"labelPadding":3,"labelFlush":false,"labelOverlap":false,"labelExpr":"datum.value == 0 ? '0' : (datum.value < 0 ? '-' : '') + format(abs(datum.value), '.2f')","title":"Include only points in zone: Wet Zone 1","titleX":247.5,"titleY":-258,"titleAngle":0,"titleAlign":"center","titleBaseline":"middle"}},
       "y":{"field":"y","type":"quantitative","scale":{"domain":[-1.5,1.5],"nice":false,"zero":false},"axis":{"orient":"left","values":[-1,0,1],"grid":true,"tickSize":6,"offset":1,"labelPadding":4,"labelExpr":"(datum.value < 0 ? '-' : '') + format(abs(datum.value), 'd')","title":"Gradient","titleX":0,"titleY":-14.8,"titleAngle":0,"titleAlign":"right","titleBaseline":"middle"}},
       "color":{"field":"c","type":"nominal","scale":{"domain":["g","r","b"],"range":["#2ad82a","#f22a2a","#2a2af2"]},"legend":null}}},
     {"data":{"name":"blk"},"transform":[{"filter":"datum.z == 'WZ1'"}],"mark":{"type":"circle","size":30,"color":"#222222","opacity":1},"encoding":{"x":{"field":"x","type":"quantitative","axis":null},"y":{"field":"y","type":"quantitative","axis":null}}},
     {"data":{"values":[{}]},"mark":{"type":"point","opacity":0},"encoding":{
       "x":{"datum":0,"type":"quantitative","axis":{"orient":"bottom","values":[-0.64,-0.62,-0.6,-0.58,-0.56,-0.54,-0.52,-0.5,-0.48,-0.46,-0.44,-0.42,-0.4,-0.38,-0.36,-0.34,-0.32,-0.3,-0.28,-0.26,-0.24,-0.22,-0.2,-0.18,-0.16,-0.14,-0.12,-0.1,-0.08,-0.06,-0.04,-0.02,0,0.02,0.04,0.06,0.08,0.1,0.12,0.14,0.16,0.18,0.2,0.22,0.24,0.26,0.28,0.3,0.32,0.34,0.36,0.38,0.4,0.42,0.44,0.46,0.48,0.5,0.52,0.54,0.56,0.58,0.6,0.62,0.64],"grid":false,"labels":false,"domain":false,"tickSize":3,"offset":3,"title":null}},
       "y":{"datum":0,"type":"quantitative","axis":{"orient":"left","values":[-1.4,-1.2,-1,-0.8,-0.6,-0.4,-0.2,0,0.2,0.4,0.6,0.8,1,1.2,1.4],"grid":false,"labels":false,"domain":false,"tickSize":4,"offset":1,"title":null}}}}
    ],
    "resolve":{"axis":{"x":"independent","y":"independent"}}},
   {"width":457,"height":240,
    "layer":[
     {"data":{"values":[{}]},"mark":{"type":"rule","color":"#1c1c1c","strokeWidth":2.5},"encoding":{"y":{"datum":0,"type":"quantitative","scale":{"domain":[-1.5,1.5],"nice":false,"zero":false},"axis":null}}},
     {"data":{"values":[{}]},"mark":{"type":"rule","color":"#1c1c1c","strokeWidth":2.5},"encoding":{"x":{"datum":0,"type":"quantitative","scale":{"domain":[-0.65,0.65],"nice":false,"zero":false},"axis":null}}},
     {"data":{"name":"pts"},"mark":{"type":"square","size":16,"opacity":1},"encoding":{
       "x":{"field":"x","type":"quantitative","scale":{"domain":[-0.65,0.65],"nice":false,"zero":false},"axis":{"orient":"bottom","values":[-0.6,-0.5,-0.4,-0.3,-0.2,-0.1,0,0.1,0.2,0.3,0.4,0.5,0.6],"grid":true,"tickSize":6,"offset":3,"labelPadding":3,"labelFlush":false,"labelOverlap":false,"labelExpr":"datum.value == 0 ? '0' : (datum.value < 0 ? '-' : '') + format(abs(datum.value), '.2f')","title":"Include only points in zone: HC Zone 2","titleX":247.5,"titleY":-258,"titleAngle":0,"titleAlign":"center","titleBaseline":"middle"}},
       "y":{"field":"y","type":"quantitative","scale":{"domain":[-1.5,1.5],"nice":false,"zero":false},"axis":{"orient":"left","values":[-1,0,1],"grid":true,"tickSize":6,"offset":1,"labelPadding":4,"labelExpr":"(datum.value < 0 ? '-' : '') + format(abs(datum.value), 'd')","title":"Gradient","titleX":0,"titleY":-14.8,"titleAngle":0,"titleAlign":"right","titleBaseline":"middle"}},
       "color":{"field":"c","type":"nominal","scale":{"domain":["g","r","b"],"range":["#2ad82a","#f22a2a","#2a2af2"]},"legend":null}}},
     {"data":{"name":"blk"},"transform":[{"filter":"datum.z == 'HC2'"}],"mark":{"type":"circle","size":36,"color":"#222222","opacity":1},"encoding":{"x":{"field":"x","type":"quantitative","axis":null},"y":{"field":"y","type":"quantitative","axis":null}}},
     {"data":{"values":[{}]},"mark":{"type":"point","opacity":0},"encoding":{
       "x":{"datum":0,"type":"quantitative","axis":{"orient":"bottom","values":[-0.64,-0.62,-0.6,-0.58,-0.56,-0.54,-0.52,-0.5,-0.48,-0.46,-0.44,-0.42,-0.4,-0.38,-0.36,-0.34,-0.32,-0.3,-0.28,-0.26,-0.24,-0.22,-0.2,-0.18,-0.16,-0.14,-0.12,-0.1,-0.08,-0.06,-0.04,-0.02,0,0.02,0.04,0.06,0.08,0.1,0.12,0.14,0.16,0.18,0.2,0.22,0.24,0.26,0.28,0.3,0.32,0.34,0.36,0.38,0.4,0.42,0.44,0.46,0.48,0.5,0.52,0.54,0.56,0.58,0.6,0.62,0.64],"grid":false,"labels":false,"domain":false,"tickSize":3,"offset":3,"title":null}},
       "y":{"datum":0,"type":"quantitative","axis":{"orient":"left","values":[-1.4,-1.2,-1,-0.8,-0.6,-0.4,-0.2,0,0.2,0.4,0.6,0.8,1,1.2,1.4],"grid":false,"labels":false,"domain":false,"tickSize":4,"offset":1,"title":null}}}}
    ],
    "resolve":{"axis":{"x":"independent","y":"independent"}}},
   {"width":457,"height":240,
    "layer":[
     {"data":{"values":[{}]},"mark":{"type":"rule","color":"#1c1c1c","strokeWidth":2.5},"encoding":{"y":{"datum":0,"type":"quantitative","scale":{"domain":[-1.5,1.5],"nice":false,"zero":false},"axis":null}}},
     {"data":{"values":[{}]},"mark":{"type":"rule","color":"#1c1c1c","strokeWidth":2.5},"encoding":{"x":{"datum":0,"type":"quantitative","scale":{"domain":[-0.65,0.65],"nice":false,"zero":false},"axis":null}}},
     {"data":{"name":"pts"},"mark":{"type":"square","size":16,"opacity":1},"encoding":{
       "x":{"field":"x","type":"quantitative","scale":{"domain":[-0.65,0.65],"nice":false,"zero":false},"axis":{"orient":"bottom","values":[-0.6,-0.5,-0.4,-0.3,-0.2,-0.1,0,0.1,0.2,0.3,0.4,0.5,0.6],"grid":true,"tickSize":6,"offset":3,"labelPadding":3,"labelFlush":false,"labelOverlap":false,"labelExpr":"datum.value == 0 ? '0' : (datum.value < 0 ? '-' : '') + format(abs(datum.value), '.2f')","title":"Include only points in zone: Wet Zone 2","titleX":247.5,"titleY":-258,"titleAngle":0,"titleAlign":"center","titleBaseline":"middle"}},
       "y":{"field":"y","type":"quantitative","scale":{"domain":[-1.5,1.5],"nice":false,"zero":false},"axis":{"orient":"left","values":[-1,0,1],"grid":true,"tickSize":6,"offset":1,"labelPadding":4,"labelExpr":"(datum.value < 0 ? '-' : '') + format(abs(datum.value), 'd')","title":"Gradient","titleX":0,"titleY":-14.8,"titleAngle":0,"titleAlign":"right","titleBaseline":"middle"}},
       "color":{"field":"c","type":"nominal","scale":{"domain":["g","r","b"],"range":["#2ad82a","#f22a2a","#2a2af2"]},"legend":null}}},
     {"data":{"name":"blk"},"transform":[{"filter":"datum.z == 'WZ2'"}],"mark":{"type":"circle","size":30,"color":"#222222","opacity":1},"encoding":{"x":{"field":"x","type":"quantitative","axis":null},"y":{"field":"y","type":"quantitative","axis":null}}},
     {"data":{"values":[{}]},"mark":{"type":"point","opacity":0},"encoding":{
       "x":{"datum":0,"type":"quantitative","axis":{"orient":"bottom","values":[-0.64,-0.62,-0.6,-0.58,-0.56,-0.54,-0.52,-0.5,-0.48,-0.46,-0.44,-0.42,-0.4,-0.38,-0.36,-0.34,-0.32,-0.3,-0.28,-0.26,-0.24,-0.22,-0.2,-0.18,-0.16,-0.14,-0.12,-0.1,-0.08,-0.06,-0.04,-0.02,0,0.02,0.04,0.06,0.08,0.1,0.12,0.14,0.16,0.18,0.2,0.22,0.24,0.26,0.28,0.3,0.32,0.34,0.36,0.38,0.4,0.42,0.44,0.46,0.48,0.5,0.52,0.54,0.56,0.58,0.6,0.62,0.64],"grid":false,"labels":false,"domain":false,"tickSize":3,"offset":3,"title":null}},
       "y":{"datum":0,"type":"quantitative","axis":{"orient":"left","values":[-1.4,-1.2,-1,-0.8,-0.6,-0.4,-0.2,0,0.2,0.4,0.6,0.8,1,1.2,1.4],"grid":false,"labels":false,"domain":false,"tickSize":4,"offset":1,"title":null}}}}
    ],
    "resolve":{"axis":{"x":"independent","y":"independent"}}},
 {"width":457,"height":18,
  "view":{"fill":null,"stroke":null},
  "layer":[
   {"data":{"name":"boxes"},"mark":{"type":"rect","strokeWidth":1},"encoding":{
     "x":{"field":"x","type":"quantitative","scale":{"domain":[77,534],"nice":false,"zero":false},"axis":null},"x2":{"field":"x2"},
     "y":{"field":"y","type":"quantitative","scale":{"domain":[730.4,712.4],"nice":false,"zero":false},"axis":null},"y2":{"field":"y2"},
     "fill":{"field":"k","type":"nominal","scale":{"domain":["f","btn","dd","arr"],"range":["#efefef","#ebebeb","#e9e9e9","#dedede"]},"legend":null},
     "stroke":{"field":"k","type":"nominal","scale":{"domain":["f","btn","dd","arr"],"range":["#d4d4d4","#c4c4c4","#b8b8b8","#c4c4c4"]},"legend":null}}},
   {"data":{"name":"lines"},"mark":{"type":"rule","color":"#d2d2d2","strokeWidth":1.5},"encoding":{
     "x":{"field":"x","type":"quantitative","axis":null},"x2":{"field":"x2"},
     "y":{"field":"y","type":"quantitative","axis":null},"y2":{"field":"y2"}}},
   {"data":{"name":"texts"},"transform":[{"filter":"datum.a == 'l' && datum.c == 'k'"}],"mark":{"type":"text","align":"left","baseline":"middle","fontSize":11.5,"font":"Liberation Sans","color":"#1a1a1a"},"encoding":{
     "x":{"field":"x","type":"quantitative","axis":null},"y":{"field":"y","type":"quantitative","axis":null},"text":{"field":"t"}}},
   {"data":{"name":"texts"},"transform":[{"filter":"datum.a == 'l' && datum.c == 'b'"}],"mark":{"type":"text","align":"left","baseline":"middle","fontSize":11.5,"font":"Liberation Sans","color":"#2222cc"},"encoding":{
     "x":{"field":"x","type":"quantitative","axis":null},"y":{"field":"y","type":"quantitative","axis":null},"text":{"field":"t"}}},
   {"data":{"name":"texts"},"transform":[{"filter":"datum.a == 'c' && datum.c == 'b'"}],"mark":{"type":"text","align":"center","baseline":"middle","fontSize":11.5,"font":"Liberation Sans","color":"#2222cc"},"encoding":{
     "x":{"field":"x","type":"quantitative","axis":null},"y":{"field":"y","type":"quantitative","axis":null},"text":{"field":"t"}}},
   {"data":{"name":"texts"},"transform":[{"filter":"datum.a == 'c' && datum.c == 'k'"}],"mark":{"type":"text","align":"center","baseline":"middle","fontSize":9,"font":"DejaVu Sans","color":"#1a1a1a"},"encoding":{
     "x":{"field":"x","type":"quantitative","axis":null},"y":{"field":"y","type":"quantitative","axis":null},"text":{"field":"t"}}}
  ]}
]
}
